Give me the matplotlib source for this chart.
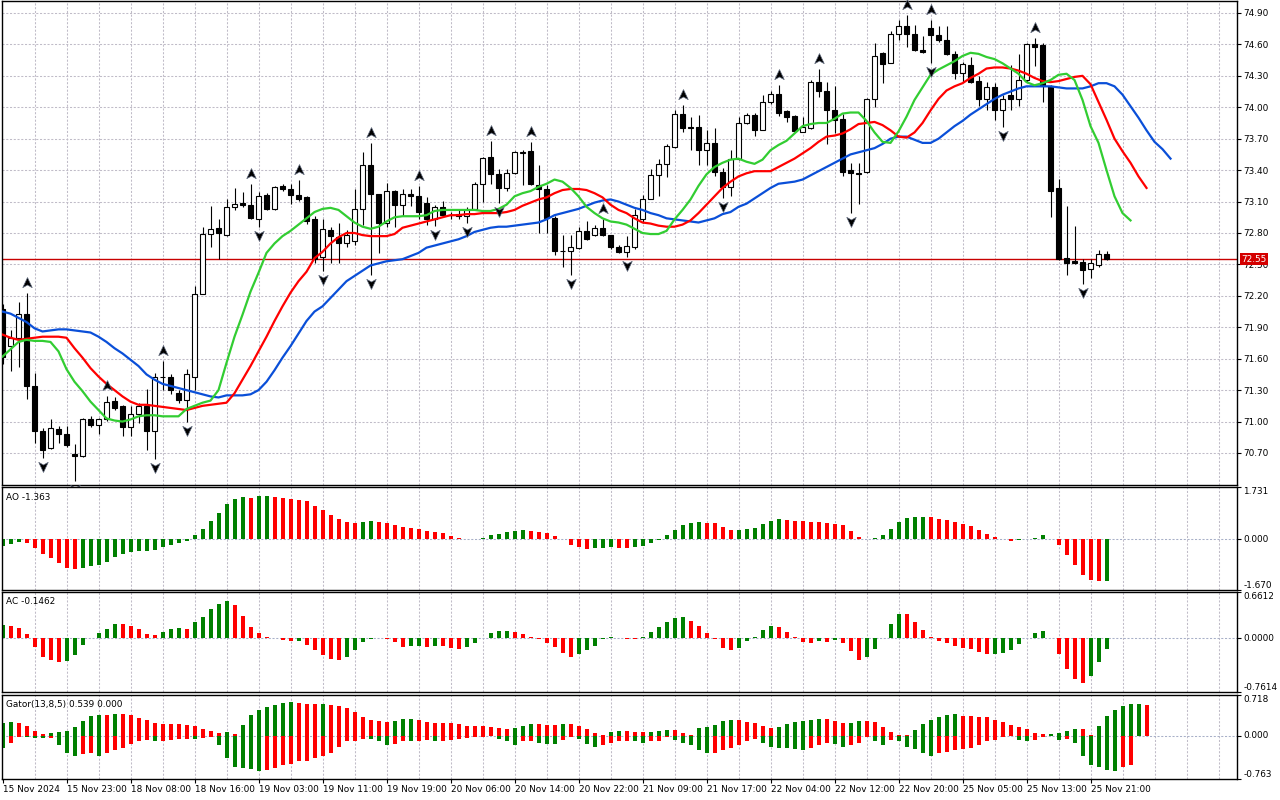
import matplotlib
matplotlib.use("Agg")
import matplotlib.pyplot as plt
import matplotlib.transforms as mtransforms
from matplotlib.patches import Rectangle
from matplotlib.path import Path

plt.rcParams['font.family'] = ['DejaVu Sans']

# ---- hourly bars ----
opens = [72.07, 71.72, 71.80, 72.03, 71.34, 70.91, 70.75, 70.93, 70.88, 70.69,
         70.67, 71.02, 70.97, 71.02, 71.20, 71.15, 70.95, 71.07, 71.15, 70.91,
         71.43, 71.43, 71.27, 71.21, 71.43, 72.22, 72.79, 72.85, 72.78, 73.05,
         73.09, 73.07, 72.93, 73.16, 73.03, 73.25, 73.22, 73.16, 73.14, 72.93,
         72.57, 72.83, 72.76, 72.70, 72.72, 73.03, 73.45, 73.17, 72.90, 73.20,
         73.07, 73.17, 73.15, 73.09, 72.93, 73.05, 72.97, 72.98, 72.96, 73.03,
         73.27, 73.53, 73.36, 73.23, 73.37, 73.56, 73.58, 73.26, 73.22, 72.94,
         72.63, 72.63, 72.66, 72.82, 72.78, 72.85, 72.78, 72.67, 72.62, 72.67,
         72.93, 73.12, 73.35, 73.46, 73.62, 73.94, 73.81, 73.81, 73.59, 73.66,
         73.38, 73.24, 73.51, 73.85, 73.93, 73.78, 74.05, 74.13, 73.96, 73.92,
         73.76, 73.80, 74.24, 74.16, 73.97, 73.89, 73.40, 73.37, 73.38, 74.08,
         74.52, 74.42, 74.70, 74.78, 74.70, 74.55, 74.76, 74.69, 74.64, 74.51,
         74.33, 74.40, 74.25, 74.08, 74.19, 73.97, 74.12, 74.08, 74.26, 74.60,
         74.59, 74.20, 73.23, 72.56, 72.53, 72.52, 72.46, 72.49, 72.60]
highs = [72.12, 71.87, 72.14, 72.23, 71.46, 70.94, 71.02, 70.96, 70.96, 70.79,
         71.03, 71.05, 71.03, 71.24, 71.23, 71.16, 71.15, 71.18, 71.31, 71.46,
         71.58, 71.45, 71.30, 71.50, 72.29, 72.86, 73.06, 72.93, 73.12, 73.23,
         73.19, 73.27, 73.19, 73.18, 73.25, 73.27, 73.27, 73.31, 73.15, 72.96,
         72.93, 72.86, 72.90, 72.83, 73.22, 73.57, 73.66, 73.17, 73.28, 73.21,
         73.22, 73.22, 73.25, 73.14, 73.07, 73.11, 73.00, 73.02, 73.05, 73.29,
         73.53, 73.68, 73.41, 73.41, 73.58, 73.59, 73.67, 73.45, 73.26, 72.96,
         72.78, 72.78, 72.86, 72.91, 72.88, 72.93, 72.78, 72.69, 72.77, 73.03,
         73.16, 73.41, 73.51, 73.65, 73.97, 74.02, 73.91, 73.93, 73.78, 73.80,
         73.42, 73.59, 73.91, 73.95, 73.95, 74.12, 74.16, 74.21, 73.97, 73.93,
         73.91, 74.26, 74.37, 74.24, 74.20, 73.94, 73.47, 73.47, 74.09, 74.61,
         74.53, 74.73, 74.83, 74.88, 74.79, 74.68, 74.83, 74.78, 74.78, 74.54,
         74.43, 74.48, 74.30, 74.24, 74.23, 74.12, 74.40, 74.51, 74.61, 74.66,
         74.61, 74.21, 73.32, 73.06, 72.87, 72.55, 72.55, 72.64, 72.63]
lows = [71.55, 71.48, 71.52, 71.22, 70.80, 70.65, 70.74, 70.80, 70.76, 70.43,
        70.66, 70.95, 70.88, 71.01, 71.11, 70.86, 70.86, 70.99, 70.73, 70.64,
        71.30, 71.26, 71.18, 71.00, 71.30, 72.22, 72.67, 72.55, 72.77, 73.02,
        73.05, 72.93, 72.86, 73.02, 73.02, 73.20, 73.08, 73.11, 72.89, 72.51,
        72.44, 72.51, 72.51, 72.67, 72.69, 72.88, 72.40, 72.61, 72.86, 72.86,
        72.96, 73.06, 72.93, 72.88, 72.87, 72.95, 72.93, 72.93, 72.90, 73.02,
        73.10, 73.27, 73.09, 73.20, 73.36, 73.26, 73.26, 72.80, 72.80, 72.59,
        72.48, 72.40, 72.65, 72.73, 72.77, 72.77, 72.65, 72.61, 72.57, 72.65,
        72.90, 73.12, 73.15, 73.33, 73.61, 73.76, 73.59, 73.45, 73.45, 73.34,
        73.13, 73.15, 73.50, 73.84, 73.73, 73.78, 74.03, 73.92, 73.86, 73.76,
        73.76, 73.79, 74.10, 73.65, 73.75, 73.34, 72.99, 73.08, 73.37, 74.00,
        74.23, 74.42, 74.64, 74.58, 74.54, 74.52, 74.42, 74.62, 74.50, 74.27,
        74.24, 74.23, 74.01, 73.97, 73.88, 73.81, 73.97, 74.01, 74.24, 74.39,
        74.05, 72.95, 72.54, 72.40, 72.50, 72.31, 72.37, 72.48, 72.54]
closes = [71.62, 71.80, 72.03, 71.34, 70.91, 70.73, 70.94, 70.88, 70.78, 70.67,
          71.02, 70.97, 71.02, 71.19, 71.13, 70.95, 71.07, 71.15, 70.91, 71.43,
          71.43, 71.30, 71.21, 71.45, 72.22, 72.79, 72.84, 72.80, 73.05, 73.08,
          73.07, 72.94, 73.15, 73.03, 73.24, 73.22, 73.16, 73.12, 72.91, 72.55,
          72.84, 72.77, 72.70, 72.78, 73.03, 73.45, 73.17, 72.90, 73.20, 73.07,
          73.17, 73.15, 73.00, 72.93, 73.05, 72.97, 72.97, 72.96, 73.02, 73.27,
          73.52, 73.36, 73.23, 73.37, 73.57, 73.57, 73.27, 73.22, 72.94, 72.63,
          72.63, 72.67, 72.82, 72.74, 72.85, 72.78, 72.67, 72.62, 72.68, 72.97,
          73.12, 73.35, 73.46, 73.63, 73.94, 73.80, 73.80, 73.59, 73.66, 73.38,
          73.24, 73.51, 73.85, 73.93, 73.78, 74.05, 74.13, 73.95, 73.91, 73.77,
          73.81, 74.24, 74.16, 73.97, 73.88, 73.38, 73.37, 73.36, 74.08, 74.49,
          74.41, 74.70, 74.78, 74.70, 74.55, 74.53, 74.69, 74.64, 74.51, 74.33,
          74.41, 74.24, 74.08, 74.19, 73.97, 74.08, 74.08, 74.26, 74.60, 74.58,
          74.20, 73.20, 72.55, 72.51, 72.51, 72.45, 72.51, 72.60, 72.55]
last_price = 72.55

# ---- alligator lines (already shifted forward as drawn) ----
jaw = [72.05, 72.03, 71.99, 71.95, 71.89, 71.86, 71.87, 71.88, 71.88, 71.87,
       71.86, 71.85, 71.81, 71.76, 71.70, 71.65, 71.59, 71.53, 71.45, 71.40,
       71.36, 71.34, 71.32, 71.30, 71.28, 71.26, 71.24, 71.23, 71.25, 71.25,
       71.25, 71.26, 71.30, 71.38, 71.49, 71.61, 71.72, 71.84, 71.96, 72.05,
       72.10, 72.18, 72.26, 72.34, 72.39, 72.44, 72.49, 72.51, 72.53, 72.54,
       72.55, 72.58, 72.61, 72.66, 72.68, 72.70, 72.72, 72.74, 72.77, 72.81,
       72.83, 72.85, 72.86, 72.86, 72.87, 72.88, 72.89, 72.90, 72.93, 72.97,
       72.99, 73.01, 73.03, 73.06, 73.09, 73.11, 73.12, 73.10, 73.07, 73.04,
       73.02, 72.99, 72.97, 72.94, 72.93, 72.92, 72.91, 72.90, 72.92, 72.94,
       72.98, 73.00, 73.05, 73.08, 73.13, 73.18, 73.23, 73.27, 73.28, 73.29,
       73.31, 73.35, 73.39, 73.43, 73.47, 73.51, 73.55, 73.57, 73.59, 73.61,
       73.65, 73.70, 73.72, 73.72, 73.69, 73.66, 73.66, 73.70, 73.76, 73.82,
       73.87, 73.93, 73.98, 74.03, 74.08, 74.12, 74.15, 74.18, 74.20, 74.20,
       74.20, 74.20, 74.19, 74.18, 74.18, 74.18, 74.20, 74.23, 74.23, 74.20,
       74.12, 74.01, 73.90, 73.78, 73.67, 73.60, 73.51]
teeth = [71.83, 71.80, 71.78, 71.79, 71.80, 71.81, 71.81, 71.81, 71.80, 71.70,
         71.61, 71.51, 71.43, 71.36, 71.30, 71.24, 71.19, 71.16, 71.16, 71.15,
         71.14, 71.13, 71.12, 71.11, 71.13, 71.15, 71.16, 71.17, 71.18, 71.27,
         71.40, 71.53, 71.67, 71.81, 71.96, 72.10, 72.23, 72.34, 72.43, 72.56,
         72.62, 72.70, 72.76, 72.80, 72.80, 72.78, 72.77, 72.77, 72.77, 72.79,
         72.85, 72.87, 72.89, 72.91, 72.93, 72.95, 72.97, 72.97, 72.98, 72.98,
         72.99, 72.99, 72.99, 73.00, 73.02, 73.06, 73.09, 73.12, 73.14, 73.18,
         73.21, 73.22, 73.22, 73.21, 73.18, 73.14, 73.07, 73.02, 72.99, 72.94,
         72.90, 72.89, 72.87, 72.86, 72.86, 72.88, 72.92, 72.99, 73.07, 73.15,
         73.23, 73.29, 73.34, 73.37, 73.39, 73.39, 73.39, 73.43, 73.47, 73.51,
         73.56, 73.61, 73.67, 73.72, 73.73, 73.75, 73.79, 73.84, 73.85, 73.86,
         73.83, 73.78, 73.72, 73.71, 73.76, 73.85, 73.97, 74.08, 74.16, 74.20,
         74.23, 74.28, 74.32, 74.37, 74.38, 74.38, 74.37, 74.35, 74.32, 74.28,
         74.25, 74.24, 74.25, 74.27, 74.29, 74.30, 74.22, 74.05, 73.88, 73.70,
         73.58, 73.47, 73.34, 73.23]
lips = [71.62, 71.69, 71.76, 71.78, 71.77, 71.77, 71.76, 71.67, 71.50, 71.38,
        71.29, 71.19, 71.11, 71.03, 71.01, 71.00, 71.02, 71.05, 71.06, 71.06,
        71.05, 71.05, 71.05, 71.12, 71.15, 71.18, 71.20, 71.30, 71.56, 71.81,
        72.02, 72.24, 72.42, 72.61, 72.70, 72.77, 72.82, 72.88, 72.94, 73.00,
        73.03, 73.04, 73.02, 72.96, 72.90, 72.86, 72.84, 72.86, 72.91, 72.95,
        72.96, 72.96, 72.96, 72.97, 73.01, 73.02, 73.02, 73.02, 73.02, 73.02,
        73.01, 73.01, 73.03, 73.07, 73.15, 73.18, 73.20, 73.24, 73.27, 73.31,
        73.29, 73.23, 73.15, 73.05, 72.99, 72.94, 72.91, 72.90, 72.88, 72.84,
        72.80, 72.79, 72.79, 72.82, 72.93, 73.02, 73.12, 73.25, 73.36, 73.43,
        73.47, 73.50, 73.51, 73.48, 73.46, 73.50, 73.59, 73.64, 73.68, 73.75,
        73.82, 73.84, 73.85, 73.85, 73.89, 73.94, 73.95, 73.95, 73.87, 73.76,
        73.67, 73.66, 73.77, 73.91, 74.07, 74.19, 74.31, 74.36, 74.40, 74.44,
        74.49, 74.52, 74.51, 74.48, 74.46, 74.42, 74.37, 74.32, 74.24, 74.21,
        74.23, 74.26, 74.31, 74.32, 74.26, 74.07, 73.82, 73.66, 73.40, 73.15,
        72.99, 72.92]

frac_up = [3, 13, 20, 31, 37, 46, 52, 61, 66, 75, 85, 97, 102, 113, 116, 129]
frac_down = [5, 9, 19, 23, 32, 40, 46, 54, 58, 62, 71, 78, 90, 106, 116, 125, 135]

# ---- oscillators ----
ao = [-0.21, -0.16, -0.08, -0.12, -0.28, -0.49, -0.61, -0.77, -0.95, -0.97,
      -0.94, -0.88, -0.84, -0.74, -0.58, -0.49, -0.41, -0.38, -0.37, -0.35,
      -0.26, -0.19, -0.12, -0.05, 0.14, 0.35, 0.60, 0.86, 1.16, 1.32,
      1.39, 1.38, 1.42, 1.43, 1.39, 1.36, 1.35, 1.31, 1.26, 1.12,
      0.96, 0.82, 0.66, 0.56, 0.54, 0.56, 0.60, 0.56, 0.55, 0.49,
      0.42, 0.38, 0.36, 0.27, 0.24, 0.20, 0.10, 0.05, 0.005, 0.015,
      0.04, 0.14, 0.17, 0.24, 0.28, 0.30, 0.27, 0.24, 0.20, 0.10,
      0.03, -0.19, -0.26, -0.31, -0.29, -0.28, -0.26, -0.27, -0.29, -0.26,
      -0.21, -0.12, -0.03, 0.14, 0.31, 0.47, 0.54, 0.56, 0.55, 0.53,
      0.40, 0.31, 0.32, 0.35, 0.38, 0.50, 0.61, 0.67, 0.63, 0.62,
      0.61, 0.58, 0.56, 0.54, 0.52, 0.47, 0.27, 0.07, 0.015, 0.04,
      0.14, 0.33, 0.56, 0.70, 0.73, 0.735, 0.73, 0.67, 0.63, 0.56,
      0.50, 0.43, 0.30, 0.17, 0.07, 0.005, -0.04, -0.005, 0.005, 0.06,
      0.14, 0.03, -0.19, -0.51, -0.85, -1.18, -1.34, -1.38, -1.363]
ac = [0.19, 0.18, 0.15, 0.07, -0.12, -0.26, -0.30, -0.33, -0.32, -0.23,
      -0.09, 0.01, 0.08, 0.14, 0.21, 0.205, 0.18, 0.14, 0.07, 0.05,
      0.09, 0.14, 0.145, 0.14, 0.23, 0.31, 0.42, 0.49, 0.53, 0.48,
      0.32, 0.16, 0.08, 0.02, 0.005, -0.02, -0.04, -0.03, -0.09, -0.16,
      -0.24, -0.29, -0.30, -0.27, -0.17, -0.05, -0.005, 0.01, -0.005, -0.05,
      -0.12, -0.11, -0.10, -0.12, -0.10, -0.105, -0.13, -0.15, -0.12, -0.06,
      0.01, 0.08, 0.11, 0.112, 0.09, 0.07, 0.02, -0.005, -0.06, -0.12,
      -0.20, -0.26, -0.22, -0.17, -0.10, -0.005, 0.02, 0.01, -0.005, -0.01,
      0.02, 0.09, 0.16, 0.24, 0.29, 0.31, 0.25, 0.18, 0.08, -0.01,
      -0.13, -0.17, -0.13, -0.04, 0.02, 0.12, 0.18, 0.16, 0.09, 0.02,
      -0.05, -0.06, -0.04, -0.045, -0.025, -0.07, -0.18, -0.30, -0.26, -0.15,
      0.01, 0.21, 0.35, 0.348, 0.24, 0.12, 0.02, -0.04, -0.07, -0.10,
      -0.13, -0.15, -0.19, -0.22, -0.215, -0.20, -0.16, -0.08, 0.01, 0.08,
      0.11, 0.01, -0.22, -0.43, -0.57, -0.64, -0.54, -0.33, -0.1462]
gator_up = [0.225, 0.243, 0.225, 0.17, 0.085, 0.03, 0.05, 0.067, 0.085, 0.155,
            0.26, 0.35, 0.366, 0.36, 0.38, 0.378, 0.366, 0.31, 0.28, 0.225,
            0.21, 0.205, 0.20, 0.19, 0.17, 0.12, 0.085, 0.05, 0.067, 0.03,
            0.19, 0.366, 0.45, 0.51, 0.54, 0.58, 0.594, 0.58, 0.56, 0.555,
            0.558, 0.54, 0.52, 0.49, 0.42, 0.33, 0.28, 0.26, 0.243, 0.26,
            0.296, 0.30, 0.28, 0.243, 0.225, 0.223, 0.222, 0.21, 0.17, 0.168,
            0.167, 0.155, 0.14, 0.12, 0.14, 0.17, 0.21, 0.205, 0.19, 0.188,
            0.21, 0.205, 0.17, 0.12, 0.05, 0.02, 0.067, 0.085, 0.083, 0.067,
            0.066, 0.068, 0.085, 0.10, 0.098, 0.05, 0.02, 0.14, 0.155, 0.19,
            0.26, 0.28, 0.278, 0.243, 0.225, 0.17, 0.14, 0.155, 0.21, 0.243,
            0.26, 0.28, 0.296, 0.294, 0.26, 0.225, 0.226, 0.26, 0.258, 0.243,
            0.155, 0.067, 0.015, 0.01, 0.10, 0.21, 0.28, 0.33, 0.366, 0.38,
            0.35, 0.348, 0.33, 0.328, 0.28, 0.243, 0.19, 0.155, 0.12, 0.05,
            0.03, 0.035, 0.05, 0.085, 0.12, 0.118, 0.02, 0.17, 0.35, 0.45,
            0.52, 0.56, 0.562, 0.539]
gator_dn = [-0.21, -0.12, -0.015, -0.02, -0.035, -0.04, -0.032, -0.155, -0.31, -0.35,
            -0.33, -0.31, -0.35, -0.31, -0.26, -0.21, -0.14, -0.085, -0.083, -0.10,
            -0.085, -0.067, -0.065, -0.05, -0.055, -0.032, -0.03, -0.155, -0.40, -0.56,
            -0.576, -0.58, -0.63, -0.61, -0.576, -0.52, -0.49, -0.454, -0.45, -0.40,
            -0.366, -0.296, -0.19, -0.10, -0.085, -0.05, -0.055, -0.085, -0.155, -0.15,
            -0.085, -0.10, -0.085, -0.067, -0.10, -0.085, -0.067, -0.05, -0.032, -0.03,
            -0.015, -0.012, -0.05, -0.10, -0.155, -0.10, -0.098, -0.12, -0.14, -0.142,
            -0.067, -0.015, -0.05, -0.14, -0.19, -0.155, -0.12, -0.10, -0.085, -0.10,
            -0.12, -0.10, -0.085, -0.015, -0.067, -0.12, -0.17, -0.26, -0.31, -0.296,
            -0.26, -0.21, -0.17, -0.10, -0.05, -0.12, -0.19, -0.21, -0.212, -0.24,
            -0.245, -0.21, -0.155, -0.12, -0.14, -0.19, -0.155, -0.12, -0.03, -0.10,
            -0.17, -0.067, -0.10, -0.19, -0.24, -0.31, -0.35, -0.31, -0.28, -0.26,
            -0.24, -0.21, -0.155, -0.085, -0.067, -0.015, -0.012, -0.067, -0.085, -0.067,
            -0.015, -0.012, -0.067, -0.05, -0.12, -0.366, -0.52, -0.56, -0.61, -0.615,
            -0.56, -0.51]

price_ticks = [74.90, 74.60, 74.30, 74.00, 73.70, 73.40, 73.10, 72.80,
               72.50, 72.20, 71.90, 71.60, 71.30, 71.00, 70.70]
ao_range = (-1.670, 1.731)
ac_range = (-0.7614, 0.6612)
gator_range = (-0.763, 0.718)
time_labels = ['15 Nov 2024', '15 Nov 23:00', '18 Nov 08:00', '18 Nov 16:00',
               '19 Nov 03:00', '19 Nov 11:00', '19 Nov 19:00', '20 Nov 06:00',
               '20 Nov 14:00', '20 Nov 22:00', '21 Nov 09:00', '21 Nov 17:00',
               '22 Nov 04:00', '22 Nov 12:00', '22 Nov 20:00', '25 Nov 05:00',
               '25 Nov 13:00', '25 Nov 21:00']

W, H = 1280, 800
GREEN = '#008000'
RED = '#ff0000'
GRID = '#c0bcc8'
DASH = (0, (2.0, 1.6))
FS = 6.4


def box(x0, y0, x1, y1):
    # pixel rectangle (top-left origin) -> figure fraction
    return [x0 / W, 1 - y1 / H, (x1 - x0) / W, (y1 - y0) / H]


def bar_colors(vals, use_abs=False):
    cols = []
    for i, v in enumerate(vals):
        if i == 0:
            cols.append(GREEN)
            continue
        a, b = (abs(v), abs(vals[i - 1])) if use_abs else (v, vals[i - 1])
        if a > b:
            cols.append(GREEN)
        elif a < b:
            cols.append(RED)
        else:
            cols.append(cols[-1])
    return cols


fig = plt.figure(figsize=(12.8, 8), dpi=100)
ax = fig.add_axes(box(2, 1, 1237, 485))
ax_ao = fig.add_axes(box(2, 487, 1237, 590))
ax_ac = fig.add_axes(box(2, 592, 1237, 692))
ax_g = fig.add_axes(box(2, 695, 1237, 779))

for a in (ax, ax_ao, ax_ac, ax_g):
    a.set_xlim(-0.0625, 154.31)
    for s in a.spines.values():
        s.set_linewidth(1.0)
        s.set_color('black')
    for k in range(4, 155, 4):
        a.axvline(k, color=GRID, lw=0.75, ls=DASH, zorder=0)
    a.yaxis.tick_right()
    a.tick_params(axis='y', direction='out', length=3, width=0.8,
                  labelsize=FS, pad=1.5, colors='black')
    a.tick_params(axis='x', bottom=False, labelbottom=False)

# ---- price panel ----
ax.set_ylim(70.3944, 75.0145)
for p in price_ticks:
    ax.axhline(p, color=GRID, lw=0.75, ls=DASH, zorder=0)
ax.set_yticks(price_ticks, ['%.2f' % p for p in price_ticks])

xs = list(range(len(opens)))
ax.vlines(xs, lows, highs, color='black', lw=0.8, zorder=3)
for i in xs:
    o, c = opens[i], closes[i]
    face = 'white' if c >= o else 'black'
    ax.add_patch(Rectangle((i - 0.3, min(o, c)), 0.6, abs(c - o),
                           facecolor=face, edgecolor='black', lw=0.8, zorder=4))

ax.plot(range(len(jaw)), jaw, color='#0a4fd8', lw=1.6, zorder=5)
ax.plot(range(len(teeth)), teeth, color='#ff0000', lw=1.6, zorder=5)
ax.plot(range(len(lips)), lips, color='#32cd32', lw=1.6, zorder=5)

# fractal arrows
up_shape = Path([(0, 1), (0.8, -0.7), (0, -0.25), (-0.8, -0.7), (0, 1)],
                [Path.MOVETO, Path.LINETO, Path.LINETO, Path.LINETO, Path.CLOSEPOLY])
dn_shape = Path([(0, -1), (0.8, 0.7), (0, 0.25), (-0.8, 0.7), (0, -1)],
                [Path.MOVETO, Path.LINETO, Path.LINETO, Path.LINETO, Path.CLOSEPOLY])
up_tr = mtransforms.offset_copy(ax.transData, fig=fig, x=0, y=10, units='dots')
dn_tr = mtransforms.offset_copy(ax.transData, fig=fig, x=0, y=-8, units='dots')
ax.plot(frac_up, [highs[i] for i in frac_up], ls='none', marker=up_shape, ms=8.5,
        mfc='black', mec='#5a6478', mew=0.5, transform=up_tr, zorder=6, clip_on=False)
ax.plot(frac_down, [lows[i] for i in frac_down], ls='none', marker=dn_shape, ms=8.5,
        mfc='black', mec='#5a6478', mew=0.5, transform=dn_tr, zorder=6, clip_on=False)

ax.axhline(last_price, color='#c80000', lw=1.0, zorder=2)
ax.text(1.0035, last_price, '%.2f' % last_price, transform=ax.get_yaxis_transform(),
        ha='left', va='center', color='white', fontsize=FS, zorder=10,
        bbox=dict(boxstyle='square,pad=0.18', fc='#d40000', ec='none'))


def osc_axis(a, rng, fmt):
    a.set_ylim(*rng)
    a.axhline(0, color='#a8b0c8', lw=0.75, ls=DASH, zorder=0)
    vals = [rng[0], 0.0, rng[1]]
    a.set_yticks(vals, [fmt % v for v in vals])
    for t, va in zip(a.yaxis.get_major_ticks(), ['bottom', 'center', 'top']):
        t.label1.set_va(va)
        t.label2.set_va(va)


# ---- AO ----
ax_ao.bar(range(len(ao)), ao, width=0.5, color=bar_colors(ao), lw=0, zorder=2)
osc_axis(ax_ao, ao_range, '%.3f')

# ---- AC ----
ax_ac.bar(range(len(ac)), ac, width=0.5, color=bar_colors(ac), lw=0, zorder=2)
osc_axis(ax_ac, ac_range, '%.4f')

# ---- Gator ----
ax_g.bar(range(len(gator_up)), gator_up, width=0.5, color=bar_colors(gator_up), lw=0, zorder=2)
ax_g.bar(range(len(gator_dn)), gator_dn, width=0.5,
         color=bar_colors(gator_dn, use_abs=True), lw=0, zorder=2)
osc_axis(ax_g, gator_range, '%.3f')

ax_g.tick_params(axis='x', bottom=True, labelbottom=True, direction='out',
                 length=3, width=0.8, labelsize=FS, pad=1)
ax_g.set_xticks(range(0, 8 * len(time_labels), 8), time_labels)
for t in ax_g.get_xticklabels():
    t.set_ha('left')

fig.text(6 / W, 1 - 497 / H, 'AO %.3f' % ao[-1], fontsize=FS, va='center')
fig.text(6 / W, 1 - 601.5 / H, 'AC %.4f' % ac[-1], fontsize=FS, va='center')
fig.text(6 / W, 1 - 704.5 / H, 'Gator(13,8,5) %.3f 0.000' % gator_up[-1], fontsize=FS, va='center')

fig.savefig('out.png', dpi=100)
